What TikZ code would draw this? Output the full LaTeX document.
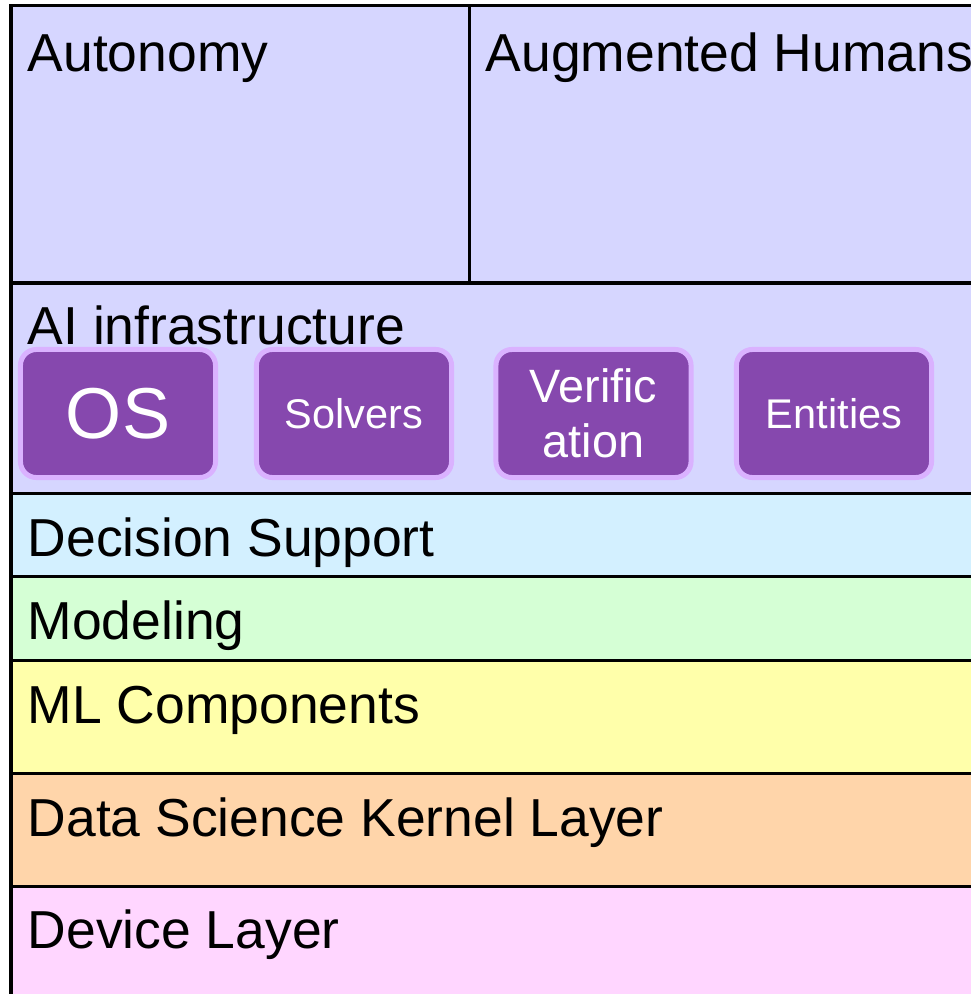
\documentclass[tikz,border=0pt]{standalone}
\usepackage{fontspec}
\setmainfont{Liberation Sans}
\usepackage{tikz}
\usetikzlibrary{positioning}
\definecolor{topcol}{RGB}{214,214,255}
\definecolor{decisioncol}{RGB}{211,240,255}
\definecolor{modelcol}{RGB}{213,255,213}
\definecolor{mlcol}{RGB}{255,255,170}
\definecolor{kernelcol}{RGB}{255,213,170}
\definecolor{devicecol}{RGB}{255,214,255}
\definecolor{tilefill}{RGB}{134,72,174}
\definecolor{tileedge}{RGB}{218,178,255}

\begin{document}
\begin{tikzpicture}
    [x=0.01cm,y=-0.01cm,
     layer/.style={draw=black,line width=0.3mm},
     label/.style={anchor=base west,inner sep=0pt,font=\fontsize{15.2}{18}\selectfont},
     tile/.style={rectangle,rounded corners=0.16cm,draw=tileedge,fill=tilefill,line width=0.5mm,
                  minimum width=1.95cm,minimum height=1.28cm,text=white,align=center}]
    \useasboundingbox (0,0) rectangle (971,994);
    \clip (0,0) rectangle (971,994);

    % layers
    \draw[layer,fill=topcol] (11,6) rectangle (469,283);
    \draw[layer,fill=topcol] (469,6) rectangle (1000,283);
    \draw[layer,fill=topcol] (11,283) rectangle (1000,493);
    \draw[layer,fill=decisioncol] (11,493) rectangle (1000,576);
    \draw[layer,fill=modelcol] (11,576) rectangle (1000,660);
    \draw[layer,fill=mlcol] (11,660) rectangle (1000,773);
    \draw[layer,fill=kernelcol] (11,773) rectangle (1000,886);
    \draw[layer,fill=devicecol] (11,886) rectangle (1000,1020);

    \node (auto) at (27,72) [label] {Autonomy};
    \node (aug) at (485,72) [label] {Augmented Humans};
    \node (infra) at (27,344) [label] {AI infrastructure};
    \node (dec) at (27,556) [label] {Decision Support};
    \node (model) at (27,639) [label] {Modeling};
    \node (ml) at (27,723) [label] {ML Components};
    \node (kernel) at (27,836) [label] {Data Science Kernel Layer};
    \node (device) at (27,948) [label] {Device Layer};

    % infrastructure tiles
    \node (os) at (118,413.5) [tile,font=\fontsize{20.5}{24}\selectfont] {OS};
    \node (solv) at (354,413.5) [tile,font=\fontsize{11.8}{14}\selectfont] {Solvers};
    \node (verif) at (593.5,413.5) [tile,font=\fontsize{13.3}{15.6}\selectfont] {Verific\\ation};
    \node (ent) at (834,413.5) [tile,font=\fontsize{11.8}{14}\selectfont] {Entities};
\end{tikzpicture}
\end{document}
